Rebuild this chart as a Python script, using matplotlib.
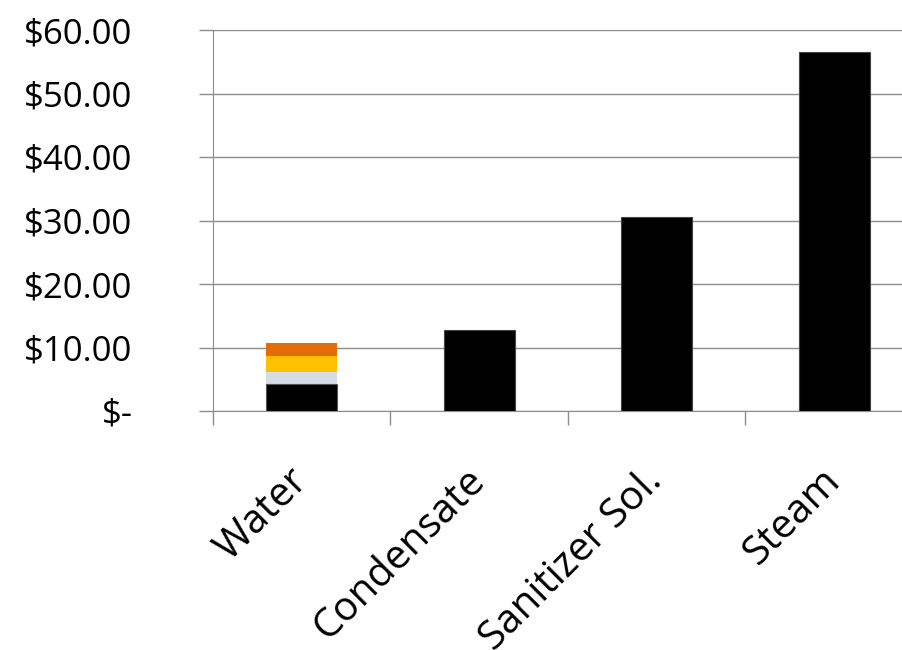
import numpy as np
import matplotlib.pyplot as plt

categories = ['Water', 'Condensate', 'Sanitizer Sol.', 'Steam']
# water cost is broken into four stacked parts; the rest are single bars
water_parts = [4.2, 1.95, 2.5, 2.05]
water_colors = ['#000000', '#D6DCE4', '#FFC000', '#E36C09']
other_costs = [12.75, 30.55, 56.5]

plt.rcParams['font.family'] = ['Open Sans', 'DejaVu Sans']

fig = plt.figure(figsize=(9.03, 6.5), dpi=100)
ax = fig.add_axes([213 / 903, 1 - 411 / 650, 710 / 903, 381 / 650])

x = np.arange(len(categories))
width = 0.4

bottom = 0
for v, c in zip(water_parts, water_colors):
    ax.bar(x[0], v, width, bottom=bottom, color=c, edgecolor='none', zorder=3)
    bottom += v
ax.bar(x[0], water_parts[0], width, color='none', edgecolor='#555555', linewidth=0.8, zorder=4)
ax.bar(x[1:], other_costs, width, color='black', edgecolor='#444444', linewidth=0.8, zorder=3)

ax.set_xlim(-0.5, len(categories) - 0.5)
ax.set_ylim(0, 60)
ax.set_yticks(np.arange(0, 61, 10))
ax.set_yticklabels(['$-'] + ['${:.2f}'.format(v) for v in range(10, 61, 10)], fontsize=25)
ax.yaxis.grid(True, color='#8c8c8c', linewidth=1)
ax.set_axisbelow(True)

ax.set_xticks(x)
ax.set_xticklabels(categories, fontsize=29, rotation=45, ha='right', va='center',
                   rotation_mode='anchor')
ax.set_xticks(np.arange(-0.5, len(categories)), minor=True)
ax.tick_params(axis='x', which='major', length=0, pad=46)
ax.tick_params(axis='x', which='minor', length=10, color='#8c8c8c', width=1)
ax.tick_params(axis='y', length=10, color='#8c8c8c', width=1, pad=48)

for s in ['top', 'right']:
    ax.spines[s].set_visible(False)
ax.spines['left'].set_color('#8c8c8c')
ax.spines['bottom'].set_color('#8c8c8c')

fig.savefig('out.png', dpi=100)
